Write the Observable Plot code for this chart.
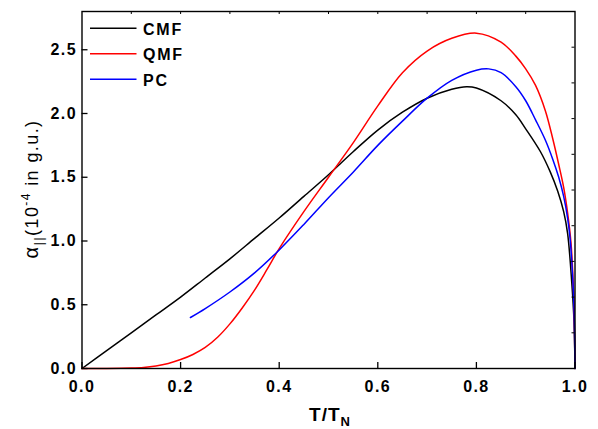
<!DOCTYPE html>
<html><head><meta charset="utf-8">
<script src="https://cdn.jsdelivr.net/npm/d3@7"></script>
<script src="https://cdn.jsdelivr.net/npm/@observablehq/plot@0.6"></script>
<style>
html,body{margin:0;padding:0;background:#fff;}
#chart{position:absolute;left:0;top:0;}
</style>
</head><body><div id="chart"></div>
<script>
// ---- data ----
const seriesNames = ["CMF", "QMF", "PC"];
const seriesColors = ["#000000", "#ff0000", "#0000ff"];

const cmfT = [0,0.05,0.1,0.15,0.2,0.25,0.3,0.35,0.4,0.45,0.5,0.55,0.6,0.65,0.7,0.75,0.78,0.8,0.85,0.88,0.9,0.93,0.95,0.965,0.977,0.985,0.9935,0.998,1];
const cmfV = [0,0.14,0.28,0.42,0.56,0.71,0.86,1.02,1.18,1.35,1.52,1.70,1.87,2.01,2.12,2.19,2.21,2.20,2.10,1.99,1.88,1.70,1.54,1.39,1.23,1.06,0.67,0.37,0];

const qmfT = [0,0.05,0.1,0.125,0.15,0.175,0.2,0.225,0.25,0.275,0.3,0.325,0.35,0.375,0.4,0.45,0.5,0.55,0.6,0.65,0.7,0.75,0.8,0.85,0.88,0.9,0.92,0.94,0.955,0.967,0.977,0.985,0.992,0.996,0.998,1];
const qmfV = [0,0,0.003,0.008,0.02,0.04,0.07,0.11,0.165,0.245,0.35,0.475,0.615,0.775,0.94,1.23,1.50,1.77,2.06,2.32,2.49,2.59,2.63,2.56,2.45,2.35,2.22,2.02,1.80,1.60,1.42,1.22,0.98,0.70,0.50,0];

const pcT = [0.22,0.25,0.3,0.35,0.4,0.45,0.5,0.55,0.6,0.65,0.7,0.75,0.8,0.825,0.85,0.88,0.9,0.92,0.94,0.955,0.967,0.977,0.985,0.99,0.995,0.998,1];
const pcV = [0.40,0.47,0.60,0.75,0.93,1.13,1.34,1.54,1.75,1.94,2.12,2.26,2.34,2.35,2.32,2.21,2.10,1.95,1.79,1.64,1.50,1.35,1.18,1.02,0.74,0.47,0];

const xTicks = [0, 0.2, 0.4, 0.6, 0.8, 1.0];
const yTicks = [0, 0.5, 1.0, 1.5, 2.0, 2.5];
const xMinorTop = [0.1, 0.2, 0.3, 0.4, 0.5, 0.6, 0.7, 0.8, 0.9];
const yMinorRight = [0.28, 0.56, 0.84, 1.12, 1.40, 1.68, 1.96, 2.24, 2.52];
const xDomain = [0, 1];
const yDomain = [0, 2.8];

// ---- build table ----
const rows = [];
[[cmfT, cmfV], [qmfT, qmfV], [pcT, pcV]].forEach(([ts, vs], i) => {
  ts.forEach((t, j) => rows.push({t, v: vs[j], s: seriesNames[i]}));
});

// ---- layout ----
const W = 598, H = 429;
const mL = 81.5, mR = 23.5, mT = 11, mB = 61;
const innerW = W - mL - mR, innerH = H - mT - mB;

const plot = Plot.plot({
  width: W, height: H,
  marginLeft: mL, marginRight: mR, marginTop: mT, marginBottom: mB,
  style: {fontFamily: "'Liberation Sans', Arial, sans-serif", fontSize: "16px", fontWeight: "bold", background: "#fff", color: "#000", letterSpacing: "1.4px"},
  x: {domain: xDomain},
  y: {domain: yDomain},
  color: {domain: seriesNames, range: seriesColors},
  marks: [
    Plot.line(rows, {x: "t", y: "v", z: "s", stroke: "s", strokeWidth: 1.5, curve: "catmull-rom"}),
    Plot.frame({stroke: "#000", strokeWidth: 1.4}),
    Plot.axisX({ticks: xTicks, tickSize: 0, tickPadding: 12, tickFormat: d3.format(".1f"), label: null}),
    Plot.axisY({ticks: yTicks, tickSize: 0, tickPadding: 5, tickFormat: d3.format(".1f"), label: null}),
    Plot.tickX(xTicks, {x: d => d, insetTop: innerH - 6, stroke: "#000", strokeWidth: 1.3}),
    Plot.tickY(yTicks, {y: d => d, insetRight: innerW - 6, stroke: "#000", strokeWidth: 1.3}),
    Plot.tickX(xMinorTop, {x: d => d, insetBottom: innerH - 3, stroke: "#000", strokeWidth: 1}),
    Plot.tickY(yMinorRight, {y: d => d, insetLeft: innerW - 3, stroke: "#000", strokeWidth: 1})
  ]
});
document.getElementById("chart").appendChild(plot);

// ---- titles & legend ----
const svg = d3.select(plot);
const ff = "'Liberation Sans', Arial, sans-serif";

// x title: T/T_N
const xt = svg.append("text")
  .attr("x", 330).attr("y", 420.5)
  .attr("text-anchor", "middle")
  .style("font-family", ff).style("font-weight", "bold").style("font-size", "19px").style("letter-spacing", "1px");
xt.append("tspan").text("T/T");
xt.append("tspan").attr("dy", 5).style("font-size", "13px").text("N");

// y title
const yt = svg.append("text")
  .attr("transform", "translate(38,189) rotate(-90)")
  .attr("text-anchor", "middle")
  .style("font-family", ff).style("font-weight", "normal").style("font-size", "18px").style("letter-spacing", "1.4px");
yt.append("tspan").style("font-size", "20px").text("α");
yt.append("tspan").attr("dy", 5).style("font-size", "13px").text("||");
yt.append("tspan").attr("dy", -5).text("(10");
yt.append("tspan").attr("dy", -8).style("font-size", "12px").text("-4");
yt.append("tspan").attr("dy", 8).text(" in g.u.)");

// legend
const leg = svg.append("g");
seriesNames.forEach((name, i) => {
  const y = 28.3 + i * 25.5;
  leg.append("line").attr("x1", 90).attr("x2", 136.5).attr("y1", y).attr("y2", y)
    .attr("stroke", seriesColors[i]).attr("stroke-width", 1.5);
  leg.append("text").attr("x", 143).attr("y", y + 6.5)
    .attr("text-anchor", "start")
    .style("text-anchor", "start")
    .style("font-family", ff).style("font-weight", "bold").style("font-size", "16px").style("letter-spacing", "1.8px")
    .text(name);
});
</script>
</body></html>
